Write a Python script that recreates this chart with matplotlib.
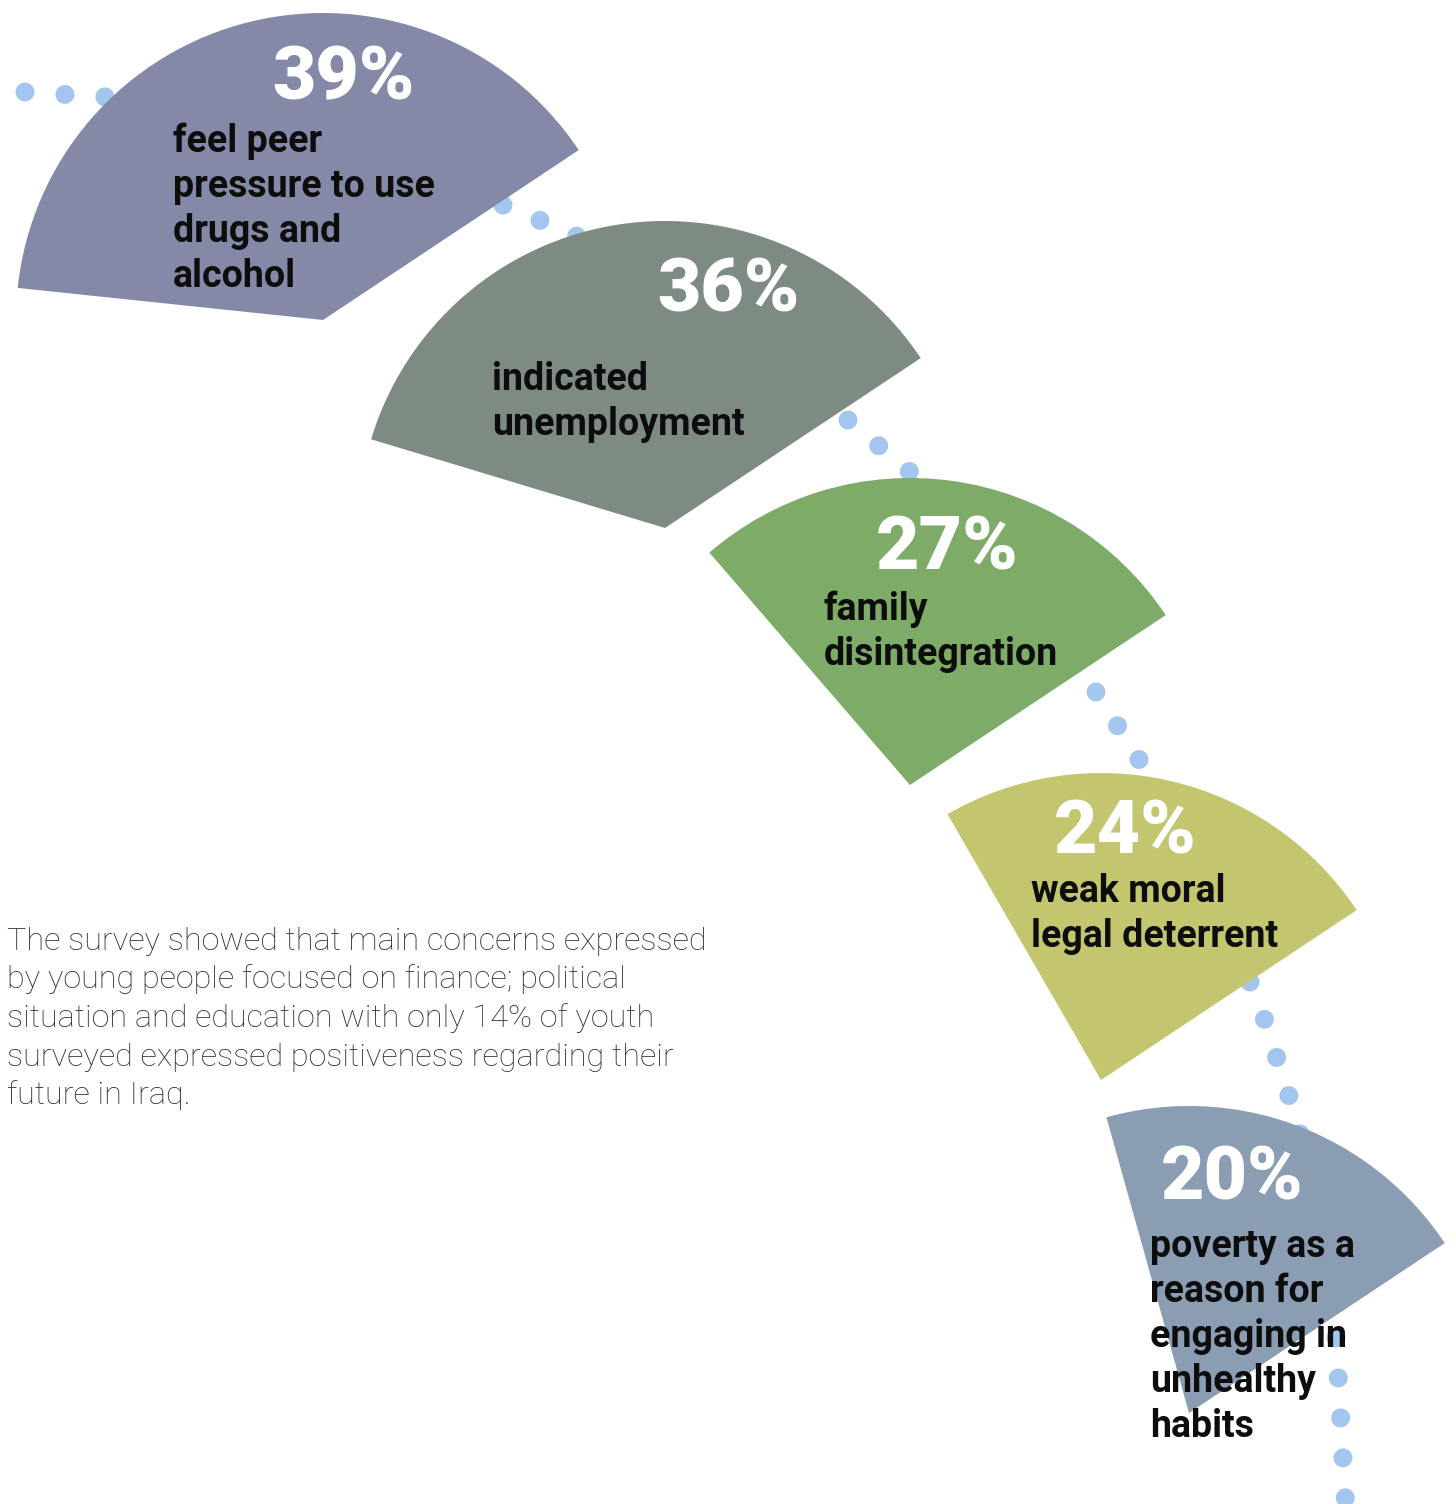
import matplotlib
matplotlib.use("Agg")
import matplotlib.pyplot as plt
from matplotlib.patches import Wedge

# ---- data ----
percents = [39, 36, 27, 24, 20]
pct_labels = ["39%", "36%", "27%", "24%", "20%"]
descriptions = [
    ["feel peer", "pressure to use", "drugs and", "alcohol"],
    ["indicated", "unemployment"],
    ["family", "disintegration"],
    ["weak moral", "legal deterrent"],
    ["poverty as a", "reason for", "engaging in", "unhealthy", "habits"],
]
colors = ["#8589a8", "#7e8b83", "#7fab69", "#c4c66f", "#8b9db2"]
body_lines = [
    "The survey showed that main concerns expressed",
    "by young people focused on finance; political",
    "situation and education with only 14% of youth",
    "surveyed expressed positiveness regarding their",
    "future in Iraq.",
]

# ---- layout (pixel coordinates, y down) ----
W, H = 1456, 1504
centers = [(323, 320), (665, 528), (910, 785), (1101, 1080), (1189, 1413)]
radius = 307
start_angle = 33.6
pct_pos = [(272, 100), (657, 312), (876, 570), (1054, 853), (1161, 1200)]
desc_pos = [(173, 152), (492, 390), (824, 620), (1031, 902), (1150, 1257)]
desc_step = 45
# decorative dotted path, drawn as pieces that start at their first visible dot
path_segments = [
    [(25, 92), (107, 97), (330, 150)],
    [(503, 205), (575, 235), (700, 320)],
    [(848, 420), (910, 472), (1000, 560)],
    [(1096, 692), (1140, 761), (1200, 880)],
    [(1250, 982), (1264, 1018), (1289, 1096), (1300, 1133), (1320, 1250)],
    [(1336, 1338), (1346, 1510)],
]

fig = plt.figure(figsize=(W / 100, H / 100), dpi=100)
ax = fig.add_axes([0, 0, 1, 1])
ax.set_xlim(0, W)
ax.set_ylim(H, 0)
ax.set_aspect("equal")
ax.axis("off")

dot_px = 19
lw = dot_px * 72 / 100
for seg in path_segments:
    xs = [p[0] for p in seg]
    ys = [p[1] for p in seg]
    ax.plot(xs, ys, color="#a3c6ee", linewidth=lw,
            linestyle=(0, (0.001, 40 / dot_px)),
            dash_capstyle="round", solid_capstyle="round", zorder=1)

for i, p in enumerate(percents):
    span = p * 3.6
    w = Wedge(centers[i], radius, -(start_angle + span), -start_angle,
              facecolor=colors[i], edgecolor="none", zorder=2)
    ax.add_patch(w)
    ax.text(pct_pos[i][0], pct_pos[i][1], pct_labels[i], color="white",
            fontsize=54, fontweight=900, family="Roboto",
            ha="left", va="baseline", zorder=4)
    for j, line in enumerate(descriptions[i]):
        ax.text(desc_pos[i][0], desc_pos[i][1] + j * desc_step, line,
                color="#0d0d0d", fontsize=27, fontweight="bold", family="Roboto",
                ha="left", va="baseline", zorder=4)

for k, line in enumerate(body_lines):
    ax.text(7, 950 + k * 38.5, line, color="#2e2e2e", fontsize=23.3,
            fontweight="light", family="Roboto", ha="left", va="baseline", zorder=4)

fig.savefig("out.png", dpi=100, facecolor="white")
